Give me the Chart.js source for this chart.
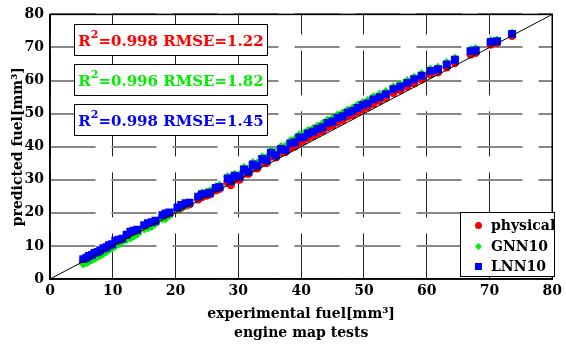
<!DOCTYPE html>
<html>
<head>
<meta charset="utf-8">
<script src="https://cdn.jsdelivr.net/npm/chart.js@4.4.0/dist/chart.umd.min.js"></script>
<style>
  html, body { margin: 0; padding: 0; background: #fff; }
  #wrap { position: relative; width: 566px; height: 345px; }
  .stat {
    position: absolute; left: 74px; width: 192px; height: 30px;
    border: 1px solid #000; background: #fff;
    font: bold 15px "DejaVu Serif", serif; line-height: 32px;
    text-align: center; white-space: nowrap;
  }
  .stat sup { font-size: 11px; line-height: 0; position: relative; top: -2px; }
  #legend {
    position: absolute; left: 460px; top: 212px; width: 93px; height: 63px;
    border: 1.5px solid #000; background: #fff;
    font: bold 14px "DejaVu Serif", serif;
  }
  #legend .row { position: absolute; left: 0; height: 20px; line-height: 20px; }
  #legend .mk { position: absolute; }
  #legend .tx { position: absolute; left: 30px; white-space: nowrap; }
</style>
</head>
<body>
<div id="wrap">
  <canvas id="fuelChart" width="566" height="345"></canvas>
  <div class="stat" style="top:24px;color:#ff0000">R<sup>2</sup>=0.998 RMSE=1.22</div>
  <div class="stat" style="top:64px;color:#00ee00">R<sup>2</sup>=0.996 RMSE=1.82</div>
  <div class="stat" style="top:104px;color:#0000ff">R<sup>2</sup>=0.998 RMSE=1.45</div>
  <div id="legend"></div>
</div>
<script>
// experimental fuel of each engine map test [mm3]
const expFuel = [5.3, 5.8, 6.2, 6.7, 7.1, 7.6, 8.0, 8.5, 9.0, 9.4, 9.9,
  10.4, 10.9, 11.5, 12.2, 12.8, 13.3, 13.9, 15.0, 15.6, 16.2, 16.8, 17.9, 18.4, 19.0,
  20.3, 20.9, 21.6, 22.2, 23.6, 24.2, 24.9, 25.5, 26.4, 27.0, 28.3, 28.8, 29.4,
  30.2, 30.9, 31.6, 32.3, 33.0, 33.8, 34.5, 35.2, 36.0, 36.8, 37.5, 38.3, 39.0, 39.7,
  40.4, 41.1, 41.9, 42.6, 43.4, 44.2, 45.0, 45.8, 46.6, 47.4, 48.2, 49.0, 49.8,
  50.6, 51.5, 52.5, 53.5, 54.7, 55.8, 56.9, 58.0, 59.2,
  60.6, 61.8, 63.2, 64.5, 67.0, 67.8, 70.2, 71.2, 73.6];

// predicted fuel, physical model
const physicalPred = [5.5, 6.0, 6.5, 6.9, 7.4, 7.8, 8.3, 8.8, 9.2, 9.7, 10.1,
  10.9, 11.3, 11.8, 12.9, 13.4, 13.9, 14.2, 15.7, 16.2, 16.6, 17.1, 18.6, 19.1, 19.5,
  20.9, 21.6, 22.2, 22.6, 24.1, 24.8, 25.2, 25.6, 26.8, 27.3, 29.2, 28.4, 30.0,
  30.1, 31.9, 31.8, 33.6, 33.5, 35.2, 35.1, 37.0, 36.8, 38.2, 38.4, 39.7, 40.1, 41.4,
  41.8, 42.7, 43.3, 44.1, 44.7, 45.9, 46.4, 47.4, 48.0, 49.1, 49.6, 50.5, 51.3,
  52.0, 53.0, 53.9, 54.8, 56.2, 57.1, 58.2, 59.2, 60.4,
  61.8, 62.5, 64.0, 65.3, 67.9, 68.4, 70.9, 71.4, 73.5];

// predicted fuel, global neural net
const gnnPred = [4.6, 5.0, 5.4, 5.9, 6.3, 6.9, 7.2, 7.8, 8.4, 8.9, 9.4,
  10.1, 10.6, 11.4, 12.0, 12.5, 13.0, 13.6, 15.2, 15.5, 16.0, 16.9, 18.2, 18.3, 19.4,
  21.0, 21.8, 22.4, 23.0, 25.0, 25.9, 26.2, 26.6, 27.8, 28.3, 30.9, 30.1, 31.6,
  31.5, 33.6, 33.2, 35.1, 35.0, 36.9, 36.8, 38.7, 38.4, 40.0, 40.1, 41.7, 42.3, 43.5,
  43.8, 44.8, 45.4, 46.2, 46.9, 48.0, 48.5, 49.5, 50.1, 51.0, 51.6, 52.5, 53.3,
  53.9, 55.0, 55.8, 56.6, 58.0, 58.9, 59.9, 60.9, 62.0,
  63.4, 63.9, 65.4, 66.7, 69.3, 69.6, 72.0, 72.2, 74.3];

// predicted fuel, local neural net
const lnnPred = [6.0, 6.4, 7.0, 7.3, 7.9, 8.2, 8.7, 9.3, 9.6, 10.2, 10.5,
  11.6, 11.9, 12.2, 13.4, 14.3, 14.6, 14.9, 16.3, 16.9, 17.2, 17.6, 19.3, 19.8, 20.1,
  21.6, 22.4, 22.9, 23.1, 24.9, 25.6, 25.8, 26.1, 27.5, 27.8, 30.4, 29.6, 31.2,
  30.9, 33.1, 32.4, 34.6, 34.2, 36.3, 35.9, 38.2, 37.4, 39.3, 39.0, 41.0, 41.3, 42.8,
  42.9, 44.0, 44.5, 45.4, 45.9, 47.2, 47.6, 48.7, 49.2, 50.3, 50.8, 51.7, 52.6,
  53.1, 54.3, 55.0, 55.9, 57.4, 58.2, 59.3, 60.4, 61.5,
  62.9, 63.4, 64.9, 66.3, 68.9, 69.1, 71.7, 71.9, 74.1];

// ideal y = x reference line
const idealX = [0, 80];
const idealY = [0, 80];

const axisTicks = [0, 10, 20, 30, 40, 50, 60, 70, 80];

const FONT = '"DejaVu Serif", serif';

function pts(ys) {
  return expFuel.map((x, i) => ({ x, y: ys[i] }));
}

const series = [
  { label: 'physical', data: pts(physicalPred), color: '#ff0000', style: 'circle', r: 4.2, order: 3 },
  { label: 'GNN10', data: pts(gnnPred), color: '#00ee00', style: 'rectRot', r: 4.8, order: 2 },
  { label: 'LNN10', data: pts(lnnPred), color: '#0000ff', style: 'rect', r: 5.6, order: 1 },
];

// top + right box edges (Chart.js only draws the axis borders)
const boxPlugin = {
  id: 'box',
  afterDatasetsDraw(chart) {
    const { ctx, chartArea: a } = chart;
    ctx.save();
    ctx.strokeStyle = '#000';
    ctx.lineWidth = 1.5;
    ctx.strokeRect(a.left, a.top, a.right - a.left, a.bottom - a.top);
    ctx.restore();
  }
};

const datasets = series.map(s => ({
  type: 'scatter',
  label: s.label,
  data: s.data,
  backgroundColor: s.color,
  borderColor: s.color,
  borderWidth: 0,
  pointStyle: s.style,
  pointRadius: s.r,
  order: s.order,
}));

datasets.push({
  type: 'line',
  label: 'ideal',
  data: idealX.map((x, i) => ({ x, y: idealY[i] })),
  borderColor: '#000',
  borderWidth: 1,
  pointRadius: 0,
  order: 0,
});

new Chart(document.getElementById('fuelChart').getContext('2d'), {
  type: 'scatter',
  data: { datasets },
  options: {
    responsive: false,
    animation: false,
    layout: { padding: { top: 13, right: 9, left: 0, bottom: 0 } },
    plugins: {
      legend: { display: false },
      tooltip: { enabled: false },
    },
    scales: {
      x: {
        type: 'linear', min: 0, max: 80,
        afterBuildTicks: s => { s.ticks = axisTicks.map(v => ({ value: v })); },
        afterFit: s => { s.height = 66; },
        ticks: { color: '#000', padding: 4, font: { family: FONT, size: 14, weight: 'bold' } },
        grid: { color: '#222', lineWidth: 1, drawTicks: false },
        border: { color: '#000', width: 1.5, dash: [45, 16], dashOffset: 25 },
        title: {
          display: true,
          text: ['experimental fuel[mm³]', 'engine map tests'],
          color: '#000',
          font: { family: FONT, size: 14, weight: 'bold', lineHeight: 19 / 14 },
          padding: { top: 0, bottom: 2.5 },
        },
      },
      y: {
        type: 'linear', min: 0, max: 80,
        afterBuildTicks: s => { s.ticks = axisTicks.map(v => ({ value: v })); },
        afterFit: s => { s.width = 50; },
        ticks: { color: '#000', padding: 6, font: { family: FONT, size: 14, weight: 'bold' } },
        grid: { color: '#888', lineWidth: 2, drawTicks: false },
        border: { color: '#000', width: 1.5, dash: [45, 16], dashOffset: 0 },
        title: {
          display: true,
          text: 'predicted fuel[mm³]',
          color: '#000',
          font: { family: FONT, size: 14, weight: 'bold', lineHeight: 1.2 },
          padding: { top: 10, bottom: 0 },
        },
      },
    },
  },
  plugins: [boxPlugin],
});

// legend inside the axes, lower right
const legend = document.getElementById('legend');
series.forEach((s, i) => {
  const row = document.createElement('div');
  row.className = 'row';
  row.style.top = (2 + i * 20.5) + 'px';
  row.style.width = '93px';
  const mk = document.createElement('div');
  mk.className = 'mk';
  mk.style.background = s.color;
  if (s.style === 'circle') {
    Object.assign(mk.style, { left: '14px', top: '7px', width: '7px', height: '7px', borderRadius: '50%' });
  } else if (s.style === 'rectRot') {
    Object.assign(mk.style, { left: '15px', top: '8px', width: '5px', height: '5px', transform: 'rotate(45deg)' });
  } else {
    Object.assign(mk.style, { left: '14px', top: '7px', width: '7px', height: '7px' });
  }
  const tx = document.createElement('div');
  tx.className = 'tx';
  tx.textContent = s.label;
  row.appendChild(mk);
  row.appendChild(tx);
  legend.appendChild(row);
});
</script>
</body>
</html>
